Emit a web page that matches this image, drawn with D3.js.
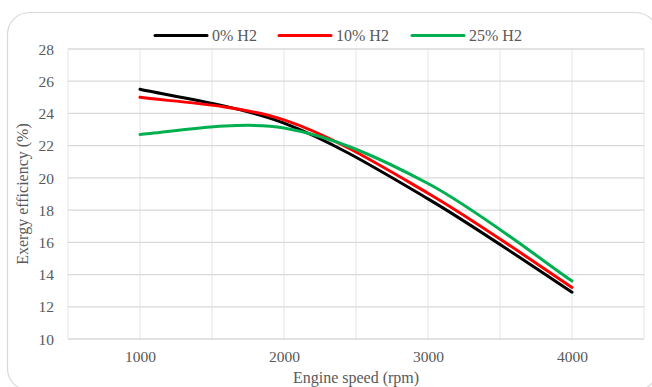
<html>
<head>
<meta charset="utf-8">
<script type="text/javascript" src="https://cdnjs.cloudflare.com/ajax/libs/d3/7.8.5/d3.min.js"></script>
<style>
	body { margin: 0; background: #fff; }
	text { font-family: "Liberation Serif", "Times New Roman", serif; fill: #595959; }
</style>
</head>
<body>
<div id="chart"></div>
<script type="text/javascript">
	// engine speed (rpm)
	var speeds = [1000, 2000, 3000, 4000];
	// exergy efficiency (%)
	var h2_0 = [25.5, 23.4, 18.7, 12.9];
	var h2_10 = [25.0, 23.6, 19.05, 13.2];
	var h2_25 = [22.7, 23.1, 19.65, 13.6];
	var seriesNames = ["0% H2", "10% H2", "25% H2"];
	var seriesColors = ["#000000", "#ff0000", "#00b050"];
	var xTicks = [1000, 2000, 3000, 4000];
	var xGrid = [500, 1000, 1500, 2000, 2500, 3000, 3500, 4000, 4500];
	var yTicks = [10, 12, 14, 16, 18, 20, 22, 24, 26, 28];

	var W = 652, H = 387;
	var svg = d3.select("#chart").append("svg")
		.attr("width", W).attr("height", H);

	// outer rounded border
	svg.append("rect")
		.attr("x", 7.5).attr("y", 12.5)
		.attr("width", 650).attr("height", 378)
		.attr("rx", 22).attr("ry", 22)
		.attr("fill", "#fff")
		.attr("stroke", "#d9d9d9")
		.attr("stroke-width", 1.2);

	var x = d3.scaleLinear().domain([500, 4500]).range([68, 644]);
	var y = d3.scaleLinear().domain([10, 28]).range([339, 49]);

	// grid
	svg.append("g").selectAll("line").data(xGrid).enter().append("line")
		.attr("x1", function(d) { return x(d); })
		.attr("x2", function(d) { return x(d); })
		.attr("y1", y(28)).attr("y2", y(10))
		.attr("stroke", "#ebebeb").attr("stroke-width", 1.3);
	svg.append("g").selectAll("line").data(yTicks).enter().append("line")
		.attr("x1", x(500)).attr("x2", x(4500))
		.attr("y1", function(d) { return y(d); })
		.attr("y2", function(d) { return y(d); })
		.attr("stroke", "#d9d9d9").attr("stroke-width", 1.3);

	// axes (labels only)
	var yAxis = svg.append("g")
		.attr("transform", "translate(" + (x(500) - 14) + ",0)")
		.call(d3.axisLeft(y).tickValues(yTicks).tickSize(0).tickPadding(0));
	var xAxis = svg.append("g")
		.attr("transform", "translate(0," + (y(10) + 12) + ")")
		.call(d3.axisBottom(x).tickValues(xTicks).tickSize(0).tickPadding(0).tickFormat(d3.format("d")));
	[yAxis, xAxis].forEach(function(a) {
		a.select(".domain").remove();
		a.selectAll("text")
			.attr("font-family", "Liberation Serif")
			.attr("font-size", 15.5)
			.attr("fill", "#595959");
	});
	yAxis.selectAll("text").attr("dy", "0.33em");
	xAxis.selectAll("text").attr("dy", "0.71em");

	// axis titles
	svg.append("text")
		.attr("x", x(2500)).attr("y", 383)
		.attr("text-anchor", "middle")
		.attr("font-size", 16)
		.text("Engine speed (rpm)");
	svg.append("text")
		.attr("transform", "translate(28," + y(19) + ") rotate(-90)")
		.attr("text-anchor", "middle")
		.attr("font-size", 16)
		.text("Exergy efficiency (%)");

	// Excel-style smoothed line: bezier handles at 1/6 of neighbour span
	function excelSmooth(context) {
		var pts;
		return {
			areaStart: function() {},
			areaEnd: function() {},
			lineStart: function() { pts = []; },
			point: function(px, py) { pts.push([+px, +py]); },
			lineEnd: function() {
				var n = pts.length;
				if (!n) return;
				context.moveTo(pts[0][0], pts[0][1]);
				for (var i = 0; i < n - 1; i++) {
					var p0 = pts[Math.max(i - 1, 0)], p1 = pts[i],
						p2 = pts[i + 1], p3 = pts[Math.min(i + 2, n - 1)];
					context.bezierCurveTo(
						p1[0] + (p2[0] - p0[0]) / 6, p1[1] + (p2[1] - p0[1]) / 6,
						p2[0] - (p3[0] - p1[0]) / 6, p2[1] - (p3[1] - p1[1]) / 6,
						p2[0], p2[1]);
				}
			}
		};
	}

	// lines
	var allSeries = [h2_0, h2_10, h2_25];
	var line = d3.line()
		.x(function(d, i) { return x(speeds[i]); })
		.y(function(d) { return y(d); })
		.curve(excelSmooth);
	allSeries.forEach(function(s, i) {
		svg.append("path")
			.attr("d", line(s))
			.attr("fill", "none")
			.attr("stroke", seriesColors[i])
			.attr("stroke-width", 3)
			.attr("stroke-linecap", "round");
	});

	// legend
	var legX = [155, 279, 412];
	var leg = svg.append("g");
	seriesNames.forEach(function(n, i) {
		leg.append("line")
			.attr("x1", legX[i]).attr("x2", legX[i] + 52)
			.attr("y1", 35.5).attr("y2", 35.5)
			.attr("stroke", seriesColors[i])
			.attr("stroke-width", 3)
			.attr("stroke-linecap", "round");
		leg.append("text")
			.attr("x", legX[i] + 57).attr("y", 41)
			.attr("font-size", 16)
			.text(n);
	});
</script>
</body>
</html>
